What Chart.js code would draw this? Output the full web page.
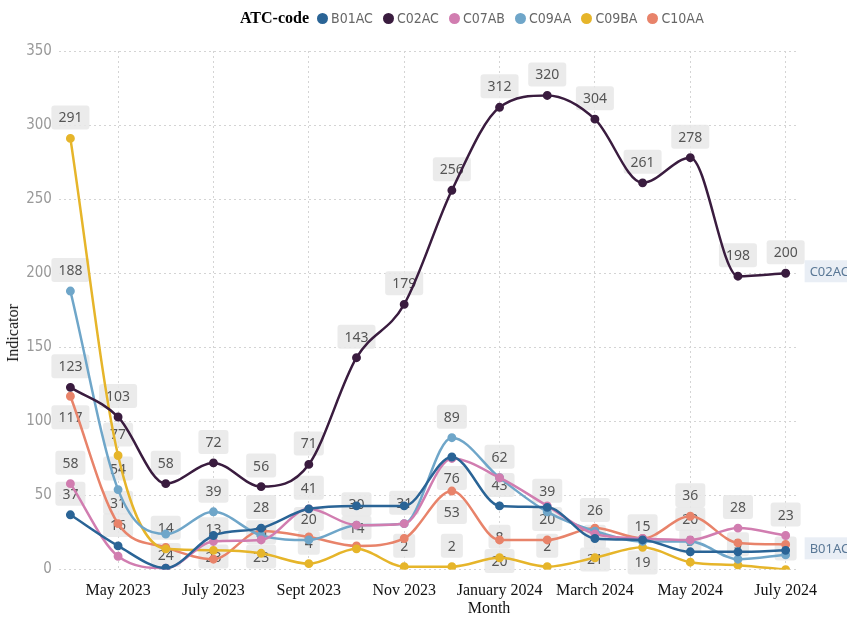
<!DOCTYPE html>
<html>
<head>
<meta charset="utf-8">
<script src="https://cdn.jsdelivr.net/npm/chart.js@4.4.1/dist/chart.umd.min.js"></script>
<style>
    html, body { margin: 0; padding: 0; background: #fff; }
    #wrap { position: relative; width: 847px; height: 617px; }
    #legend {
        position: absolute; top: 9px; left: 240px;
        display: flex; align-items: center; white-space: nowrap;
        font-family: 'Liberation Sans Narrow', 'DejaVu Sans Condensed', sans-serif;
        font-size: 14px; color: #666;
    }
    #legend .title { font-family: 'Liberation Serif', serif; font-weight: bold; color: #000; font-size: 16px; margin-right: 8px; }
    #legend .item { display: flex; align-items: center; margin-right: 10px; }
    #legend .dot { width: 11px; height: 11px; border-radius: 50%; margin-right: 3px; }
    .axis-title { position: absolute; font-family: 'Liberation Serif', serif; font-size: 16px; color: #111; white-space: nowrap; }
    #xTitle { left: 489px; top: 608px; transform: translate(-50%, -50%); }
    #yTitle { left: 13px; top: 333px; transform: translate(-50%, -50%) rotate(-90deg); }
</style>
</head>
<body>
<div id="wrap">
    <canvas id="chart" width="847" height="617"></canvas>
    <div id="legend"><span class="title">ATC-code</span></div>
    <div class="axis-title" id="xTitle">Month</div>
    <div class="axis-title" id="yTitle">Indicator</div>
</div>
<script>
// Months (Apr 2023 .. Jul 2024) and the labels shown on the x axis
const months = ['Apr 2023', 'May 2023', 'Jun 2023', 'Jul 2023', 'Aug 2023', 'Sep 2023', 'Oct 2023', 'Nov 2023',
                'Dec 2023', 'Jan 2024', 'Feb 2024', 'Mar 2024', 'Apr 2024', 'May 2024', 'Jun 2024', 'Jul 2024'];
const tickLabels = ['', 'May 2023', '', 'July 2023', '', 'Sept 2023', '', 'Nov 2023',
                    '', 'January 2024', '', 'March 2024', '', 'May 2024', '', 'July 2024'];
const yTicks = [0, 50, 100, 150, 200, 250, 300, 350];

// Series values per ATC code
const seriesNames = ['B01AC', 'C02AC', 'C07AB', 'C09AA', 'C09BA', 'C10AA'];
const b01ac = [37, 16, 1, 23, 28, 41, 43, 43, 76, 43, 42, 21, 20, 12, 12, 13];
const c02ac = [123, 103, 58, 72, 56, 71, 143, 179, 256, 312, 320, 304, 261, 278, 198, 200];
const c07ab = [58, 9, 1, 19, 20, 41, 30, 31, 75, 62, 43, 24, 21, 20, 28, 23];
const c09aa = [188, 54, 24, 39, 23, 20, 30, 31, 89, 62, 39, 26, 19, 19, 7, 10];
const c09ba = [291, 77, 14, 13, 11, 4, 14, 2, 2, 8, 2, 8, 15, 5, 3, 0];
const c10aa = [117, 31, 15, 7, 26, 22, 16, 21, 53, 20, 20, 28, 21, 36, 18, 17];
const seriesValues = [b01ac, c02ac, c07ab, c09aa, c09ba, c10aa];
const colors = ['#2A6496', '#3A1C3F', '#D17DB0', '#6FA6C9', '#E6B52A', '#E8836A'];
const endLabelSeries = ['C02AC', 'B01AC'];

// HTML legend
const legendEl = document.getElementById('legend');
seriesNames.forEach((name, i) => {
    const item = document.createElement('span');
    item.className = 'item';
    item.innerHTML = '<span class="dot" style="background:' + colors[i] + '"></span>' + name;
    legendEl.appendChild(item);
});

function overlaps(a, b) {
    return a.x < b.x + b.w - 2 && b.x < a.x + a.w - 2 && a.y < b.y + b.h - 2 && b.y < a.y + a.h - 2;
}

// Value labels in grey boxes, skipped when there is no room
const valueLabels = {
    id: 'valueLabels',
    beforeDatasetsDraw(chart) {
        const ctx = chart.ctx;
        const area = chart.chartArea;
        ctx.save();
        ctx.font = '14px "Noto Sans", "DejaVu Sans", sans-serif';
        ctx.textAlign = 'center';
        ctx.textBaseline = 'middle';
        const placed = [];
        const order = [1, 4, 3, 0, 2, 5];
        order.forEach(di => {
            const meta = chart.getDatasetMeta(di);
            meta.data.forEach((pt, i) => {
                const text = String(seriesValues[di][i]);
                const w = ctx.measureText(text).width + 14;
                const h = 24;
                const tries = [pt.y - 21, pt.y + 21];
                for (const cy of tries) {
                    const box = { x: pt.x - w / 2, y: cy - h / 2, w: w, h: h };
                    if (box.y + box.h > area.bottom + 6) continue;
                    if (placed.some(b => overlaps(b, box))) continue;
                    placed.push(box);
                    ctx.fillStyle = 'rgba(232,232,232,0.85)';
                    ctx.beginPath();
                    ctx.roundRect(box.x, box.y, box.w, box.h, 3);
                    ctx.fill();
                    ctx.fillStyle = '#555';
                    ctx.fillText(text, pt.x, cy + 1);
                    break;
                }
            });
        });
        ctx.restore();
    },
    afterDatasetsDraw(chart) {
        const ctx = chart.ctx;
        ctx.save();
        ctx.font = '13px "Noto Sans", "DejaVu Sans", sans-serif';
        ctx.textAlign = 'left';
        ctx.textBaseline = 'middle';
        endLabelSeries.forEach(name => {
            const di = seriesNames.indexOf(name);
            const meta = chart.getDatasetMeta(di);
            const last = meta.data[meta.data.length - 1];
            const w = ctx.measureText(name).width + 10;
            const x = last.x + 19, y = last.y - 2;
            ctx.fillStyle = '#E9EEF5';
            ctx.fillRect(x, y - 11, w, 22);
            ctx.fillStyle = '#5A7896';
            ctx.fillText(name, x + 5, y + 1);
        });
        ctx.restore();
    }
};

const datasets = seriesNames.map((name, di) => ({
    label: name,
    data: seriesValues[di].map((v, i) => ({ x: i, y: v })),
    borderColor: colors[di],
    backgroundColor: colors[di],
    borderWidth: 2.5,
    pointRadius: 3.2,
    pointHoverRadius: 3.2,
    tension: 0.4,
    cubicInterpolationMode: 'monotone',
    fill: false
}));

new Chart(document.getElementById('chart'), {
    type: 'line',
    data: { datasets: datasets },
    plugins: [valueLabels],
    options: {
        responsive: false,
        animation: false,
        layout: { padding: { top: 51, right: 48, left: 0, bottom: 0 } },
        plugins: {
            legend: { display: false },
            tooltip: { enabled: false }
        },
        scales: {
            x: {
                type: 'linear',
                min: -0.24,
                max: 15.28,
                afterBuildTicks: (scale) => {
                    scale.ticks = tickLabels.map((t, i) => ({ value: i, label: t })).filter(t => t.label);
                },
                ticks: {
                    callback: (v) => tickLabels[v] || '',
                    autoSkip: false,
                    maxRotation: 0,
                    color: '#111',
                    padding: 12,
                    font: { family: '"Liberation Serif", serif', size: 16 }
                },
                grid: { color: '#d4d4d4', lineWidth: 1, drawTicks: false },
                border: { display: false, dash: [2, 3] },
                // blank title keeps the room for the HTML "Month" label
                title: {
                    display: true, text: ' ', padding: { top: -13, bottom: -2 },
                    font: { family: '"Liberation Serif", serif', size: 16 }
                }
            },
            y: {
                min: 0,
                max: 350,
                afterBuildTicks: (scale) => {
                    scale.ticks = yTicks.map(v => ({ value: v }));
                },
                ticks: {
                    color: '#999',
                    padding: 7,
                    font: { family: '"Liberation Sans Narrow", "DejaVu Sans Condensed", sans-serif', size: 15 }
                },
                grid: { color: '#d4d4d4', lineWidth: 1, drawTicks: false },
                border: { display: false, dash: [2, 3] },
                title: {
                    display: true, text: ' ', padding: { top: 0, bottom: 0 },
                    font: { family: '"Liberation Serif", serif', size: 16 }
                }
            }
        }
    }
});
</script>
</body>
</html>
